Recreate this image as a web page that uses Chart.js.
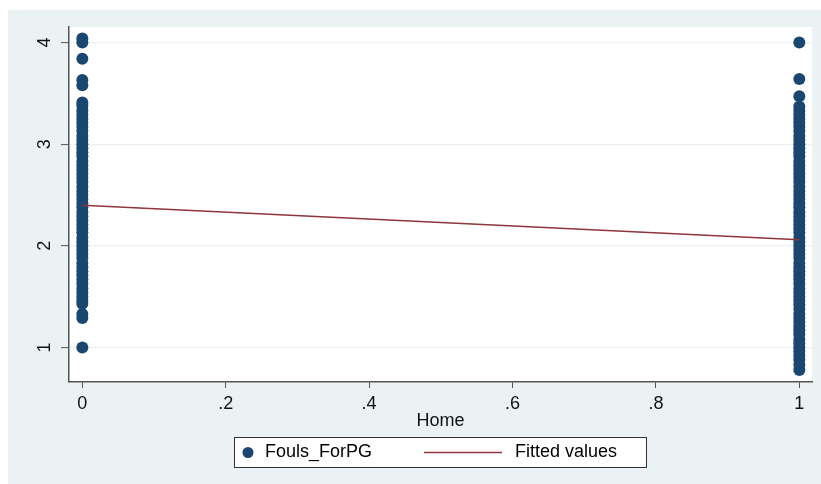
<!DOCTYPE html>
<html><head><meta charset="utf-8">
<script src="https://cdn.jsdelivr.net/npm/chart.js@4"></script>
<style>html,body{margin:0;padding:0;background:#fff;}#wrap{position:absolute;left:0;top:0;width:821px;height:484px;}</style>
</head><body><div id="wrap"><canvas id="c" width="821" height="484"></canvas></div>
<script>
// Fouls_ForPG observed for Home = 0
const awayValues = [4.04, 4.00, 3.84, 3.63, 3.58,
  3.41, 3.38, 3.33, 3.29, 3.25, 3.21, 3.17, 3.13, 3.08, 3.04, 3.00, 2.96, 2.92, 2.88, 2.83,
  2.79, 2.75, 2.71, 2.67, 2.63, 2.58, 2.54, 2.50, 2.46, 2.42, 2.38, 2.33, 2.29, 2.25, 2.21,
  2.17, 2.13, 2.08, 2.04, 2.00, 1.96, 1.92, 1.88, 1.83, 1.79, 1.75, 1.71, 1.67, 1.63, 1.58,
  1.54, 1.50, 1.46, 1.43, 1.33, 1.29, 1.00];
// Fouls_ForPG observed for Home = 1
const homeValues = [4.00, 3.64, 3.47,
  3.37, 3.33, 3.29, 3.25, 3.21, 3.17, 3.13, 3.08, 3.04, 3.00, 2.96, 2.92, 2.88, 2.83, 2.79,
  2.75, 2.71, 2.67, 2.63, 2.58, 2.54, 2.50, 2.46, 2.42, 2.38, 2.33, 2.29, 2.25, 2.21, 2.17,
  2.13, 2.08, 2.04, 2.00, 1.96, 1.92, 1.88, 1.83, 1.79, 1.75, 1.71, 1.67, 1.63, 1.58, 1.54,
  1.50, 1.46, 1.42, 1.38, 1.33, 1.29, 1.25, 1.21, 1.17, 1.13, 1.08, 1.04, 1.00, 0.96, 0.92,
  0.88, 0.83, 0.78];
const homeCategories = [0, 1];
const fitX = [0, 1];
const fitY = [2.40, 2.06];
const yTicks = [1, 2, 3, 4];
const xTicks = [0, 0.2, 0.4, 0.6, 0.8, 1];
const xTickLabels = ['0', '.2', '.4', '.6', '.8', '1'];
const seriesLabels = ['Fouls_ForPG', 'Fitted values'];
const xTitle = 'Home';

const FONT = '"Liberation Sans", Arial, Helvetica, sans-serif';
const NAVY = '#1a476f', MAROON = '#90353b', BG = '#eaf2f3', AXIS = '#555555';

const scatterPoints = [];
awayValues.forEach(v => scatterPoints.push({x: homeCategories[0], y: v}));
homeValues.forEach(v => scatterPoints.push({x: homeCategories[1], y: v}));
const fitPoints = fitX.map((x, i) => ({x, y: fitY[i]}));

const bgPlugin = {
  id: 'bg',
  beforeDraw(chart) {
    const ctx = chart.ctx, a = chart.chartArea;
    ctx.save();
    ctx.fillStyle = '#ffffff'; ctx.fillRect(0, 0, chart.width, chart.height);
    ctx.fillStyle = BG; ctx.fillRect(8, 10, chart.width - 8, chart.height - 10);
    ctx.fillStyle = '#ffffff'; ctx.fillRect(a.left, a.top, a.right - a.left, a.bottom - a.top);
    ctx.restore();
  }
};
const legendPlugin = {
  id: 'boxLegend',
  afterDraw(chart) {
    const ctx = chart.ctx, ds = chart.data.datasets;
    ctx.save();
    ctx.fillStyle = '#ffffff'; ctx.fillRect(234.5, 437.5, 412, 30);
    ctx.strokeStyle = '#333333'; ctx.lineWidth = 1; ctx.strokeRect(234.5, 437.5, 412, 30);
    const cy = 452.5;
    ctx.fillStyle = ds[0].backgroundColor;
    ctx.beginPath(); ctx.arc(248, cy, 5.5, 0, Math.PI * 2); ctx.fill();
    ctx.font = '18px ' + FONT; ctx.textBaseline = 'middle'; ctx.textAlign = 'left';
    ctx.fillStyle = '#000000';
    ctx.fillText(ds[0].label, 265, cy);
    ctx.strokeStyle = ds[1].borderColor; ctx.lineWidth = 1.5;
    ctx.beginPath(); ctx.moveTo(424, cy); ctx.lineTo(502, cy); ctx.stroke();
    ctx.fillText(ds[1].label, 515, cy);
    ctx.restore();
  }
};

new Chart(document.getElementById('c'), {
  type: 'scatter',
  data: {
    datasets: [
      {label: seriesLabels[0], data: scatterPoints, backgroundColor: NAVY, borderColor: NAVY,
       borderWidth: 0, pointRadius: 6, pointHoverRadius: 6, order: 1},
      {label: seriesLabels[1], type: 'line', data: fitPoints, showLine: true, borderColor: MAROON,
       backgroundColor: MAROON, borderWidth: 1.5, pointRadius: 0, fill: false, order: 0}
    ]
  },
  options: {
    responsive: false, animation: false, devicePixelRatio: 1,
    layout: {padding: {left: 0, top: 27, right: 9, bottom: 0}},
    plugins: {legend: {display: false}, tooltip: {enabled: false}},
    scales: {
      x: {
        type: 'linear', min: -0.0186, max: 1.0177,
        afterFit(s) { s.height = 102; },
        afterBuildTicks(s) { s.ticks = xTicks.map(v => ({value: v})); },
        ticks: {
          font: {family: FONT, size: 18}, color: '#111111', padding: 5, maxRotation: 0, minRotation: 0,
          callback(v) { const i = xTicks.indexOf(v); return i >= 0 ? xTickLabels[i] : ''; }
        },
        grid: {drawOnChartArea: false, drawTicks: true, tickLength: 6, tickColor: AXIS, tickWidth: 1},
        border: {display: true, color: AXIS, width: 1.5},
        title: {display: true, text: xTitle, font: {family: FONT, size: 18}, color: '#111111',
                padding: {top: 0, bottom: 52}}
      },
      y: {
        type: 'linear', min: 0.661, max: 4.152,
        afterFit(s) { s.width = 69; },
        afterBuildTicks(s) { s.ticks = yTicks.map(v => ({value: v})); },
        ticks: {
          font: {family: FONT, size: 18}, color: '#111111', padding: 11,
          minRotation: 90, maxRotation: 90, crossAlign: 'center',
          callback(v) { return String(v); }
        },
        grid: {color: BG, lineWidth: 1.2, drawTicks: true, tickLength: 8, tickColor: AXIS, tickWidth: 1},
        border: {display: true, color: AXIS, width: 1.5}
      }
    }
  },
  plugins: [bgPlugin, legendPlugin]
});
</script></body></html>
